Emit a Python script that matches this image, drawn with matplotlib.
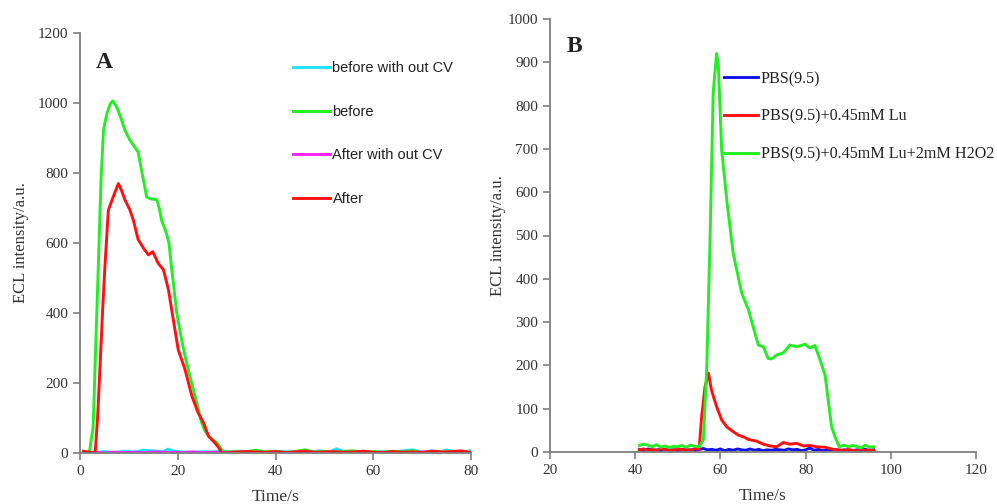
import matplotlib
matplotlib.use("Agg")
import matplotlib.pyplot as plt
import numpy as np

# ---------------- Panel A data ----------------
a_base_x = [30, 32, 34, 36, 38, 40, 42, 44, 46, 48, 50, 52, 54, 56, 58, 60, 62, 64, 66, 68, 70, 72, 74, 76, 78, 80]
a_green_base = [3, 5, 4, 8, 3, 5, 2, 4, 9, 3, 4, 2, 5, 6, 3, 4, 2, 5, 3, 6, 2, 4, 3, 5, 4, 2]
a_red_base = [0, 2, 4, 3, 2, 4, 1, 3, 5, 2, 3, 4, 2, 3, 5, 2, 1, 4, 2, 3, 1, 5, 3, 4, 6, 1]

a_green_x = [1.9, 2.7, 3.2, 3.75, 4.3, 4.8, 5.5, 6.2, 6.7, 7.5, 8.3, 9.2, 10.2, 11.0, 11.9, 12.7,
             13.65, 14.5, 15.7, 16.2, 16.7, 17.7, 18.2, 18.7, 19.8, 20.8, 21.6, 22.5, 23.9, 24.9,
             25.5, 26.3, 27.2, 28.0, 28.5, 29.0, 29.5] + a_base_x
a_green_y = [0, 76, 300, 533, 780, 922, 970, 998, 1006, 989, 960, 922, 894, 878, 860, 800,
             731, 726, 724, 700, 665, 627, 600, 533, 400, 323, 270, 219, 143, 86,
             65, 48, 38, 29, 20, 8, 3] + a_green_base

a_red_x = [0.7, 2.0, 3.1, 3.6, 4.1, 4.6, 5.1, 5.8, 6.8, 7.85, 8.5, 9.2, 10.2, 10.9, 11.9, 13.0,
           14.0, 14.9, 16.0, 17.1, 18.1, 19.1, 20.1, 21.5, 22.9, 24.2, 25.3, 26.3, 27.6, 28.4,
           29.0] + a_base_x
a_red_y = [5, 2, 0, 100, 247, 400, 533, 694, 732, 770, 750, 723, 695, 666, 610, 585,
           566, 575, 542, 523, 466, 380, 295, 238, 162, 114, 86, 48, 29, 15,
           0] + a_red_base

a_flat_x = [1, 3, 5, 7, 9, 11, 13, 15, 17, 18, 19, 21, 23, 25, 27, 29, 31, 33, 35, 37, 39, 41,
            43, 45, 47, 49, 51, 52.5, 54, 56, 58, 60, 62, 64, 66, 68, 70, 72, 74, 75, 76, 78, 80]
a_cyan_y = [3, 2, 4, 2, 5, 3, 8, 6, 4, 11, 6, 3, 2, 4, 3, 6, 2, 5, 3, 4, 2, 5,
            3, 4, 2, 6, 3, 12, 4, 3, 5, 2, 4, 3, 6, 9, 2, 6, 4, 9, 5, 4, 6]
a_mag_y = [1, 2, 0, 2, 1, 2, 1, 3, 2, 1, 2, 1, 3, 1, 2, 1, 2, 3, 1, 2, 1, 2,
           1, 3, 2, 1, 2, 1, 2, 1, 3, 1, 2, 1, 2, 1, 3, 2, 1, 2, 1, 3, 2]

a_labels = ["before with out CV", "before", "After with out CV", "After"]
a_colors = ["#22e0ff", "#22ee22", "#ff22ff", "#ff1111"]

# ---------------- Panel B data ----------------
b_x_all = list(range(41, 97))
b_blue_y = [6, 3, 7, 4, 5, 3, 6, 4, 5, 3, 6, 4, 5, 3, 6, 8, 5, 6, 4, 7, 3, 6, 4, 7, 5, 4,
            7, 4, 6, 3, 5, 4, 6, 5, 4, 7, 5, 6, 3, 5, 9, 4, 6, 3, 5, 4, 6, 3, 5, 4, 3, 5, 4, 6, 3, 5]

b_green_x = list(range(41, 56)) + [56.0, 56.8, 57.6, 58.3, 59.1, 59.5, 60.3, 61.5, 63.0, 65.0, 66.6,
                                   67.7, 68.9, 70.1, 71.2, 72.0, 73.2, 74.8, 76.3, 77.9, 79.9, 81.0,
                                   82.2, 83.4, 84.6, 85.3, 86.1, 86.9, 87.9] + list(range(89, 97))
b_green_y = [15, 18, 16, 12, 17, 11, 14, 10, 13, 12, 15, 11, 16, 13, 12] + \
            [28, 197, 505, 828, 920, 897, 697, 582, 459, 367, 328,
             289, 247, 243, 216, 215, 224, 229, 247, 243, 249, 240,
             246, 213, 176, 120, 58, 35, 12] + [16, 12, 15, 13, 9, 16, 11, 12]

b_red_x = list(range(41, 56)) + [55.6, 56.4, 57.2, 57.9, 59.1, 60.3, 61.5, 63.0, 64.2, 65.4, 66.6,
                                 68.5, 70.1, 71.6, 73.2, 74.8, 76.3, 77.9, 79.5, 81.0, 82.6, 84.6,
                                 86.5] + list(range(88, 97))
b_red_y = [5, 7, 4, 6, 3, 8, 5, 6, 4, 7, 5, 6, 4, 8, 6] + \
          [82, 151, 182, 143, 105, 74, 58, 47, 39, 35, 29,
           25, 18, 14, 12, 22, 18, 20, 14, 15, 12, 11,
           6] + [5, 3, 6, 4, 2, 8, 3, 5, 4]

b_labels = ["PBS(9.5)", "PBS(9.5)+0.45mM Lu", "PBS(9.5)+0.45mM Lu+2mM H2O2"]
b_colors = ["#1111ee", "#ff1111", "#22ee22"]

# ---------------- Figure ----------------
serif = ["Liberation Serif", "DejaVu Serif"]
plt.rcParams["font.family"] = serif

fig = plt.figure(figsize=(9.97, 5.04), dpi=100)
axA = fig.add_axes([80 / 997, (504 - 453) / 504, 391 / 997, 420 / 504])
axB = fig.add_axes([550 / 997, (504 - 452) / 504, 426 / 997, 433 / 504])

lw = 2.1
lA = []
lA.append(axA.plot(a_flat_x, a_cyan_y, color=a_colors[0], lw=lw)[0])
lA.append(axA.plot(a_green_x, a_green_y, color=a_colors[1], lw=lw)[0])
lA.append(axA.plot(a_flat_x, a_mag_y, color=a_colors[2], lw=lw)[0])
lA.append(axA.plot(a_red_x, a_red_y, color=a_colors[3], lw=lw)[0])

lB = []
lB.append(axB.plot(b_x_all, b_blue_y, color=b_colors[0], lw=lw)[0])
lB.append(axB.plot(b_red_x, b_red_y, color=b_colors[1], lw=lw)[0])
lB.append(axB.plot(b_green_x, b_green_y, color=b_colors[2], lw=lw)[0])

for ax in (axA, axB):
    for s in ("top", "right"):
        ax.spines[s].set_visible(False)
    for s in ("left", "bottom"):
        ax.spines[s].set_color("#7f7f7f")
        ax.spines[s].set_linewidth(1.3)
    ax.tick_params(direction="out", length=5, width=1.2, color="#7f7f7f",
                   labelsize=11, labelcolor="#333333")
    ax.set_xlabel("Time/s", fontsize=12.5, color="#333333", labelpad=8)

axA.set_ylabel("ECL intensity/a.u.", fontsize=12, color="#333333", labelpad=6)
axB.set_ylabel("ECL intensity/a.u.", fontsize=12, color="#333333", labelpad=1)

axA.set_xlim(0, 80)
axA.set_ylim(0, 1200)
axA.set_xticks([0, 20, 40, 60, 80])
axA.set_yticks(range(0, 1201, 200))

axB.set_xlim(20, 120)
axB.set_ylim(0, 1000)
axB.set_xticks(range(20, 121, 20))
axB.set_yticks(range(0, 1001, 100))

axA.text(0.04, 0.955, "A", transform=axA.transAxes, fontsize=17, fontweight="bold",
         va="top", ha="left", color="#222222")
axB.text(0.04, 0.96, "B", transform=axB.transAxes, fontsize=17, fontweight="bold",
         va="top", ha="left", color="#222222")

legA = axA.legend(lA, a_labels, loc="upper left", bbox_to_anchor=(0.545, 0.933),
                  frameon=False, prop={"family": ["Liberation Sans", "DejaVu Sans"], "size": 10.5},
                  handlelength=2.5, handletextpad=0.2, labelspacing=2.03,
                  borderpad=0, borderaxespad=0)
legB = axB.legend(lB, b_labels, loc="upper left", bbox_to_anchor=(0.408, 0.88),
                  frameon=False, prop={"family": serif, "size": 11.6},
                  handlelength=2.1, handletextpad=0.2, labelspacing=1.35,
                  borderpad=0, borderaxespad=0)
for t in list(legA.get_texts()) + list(legB.get_texts()):
    t.set_color("#222222")

fig.savefig("out.png", dpi=100)
